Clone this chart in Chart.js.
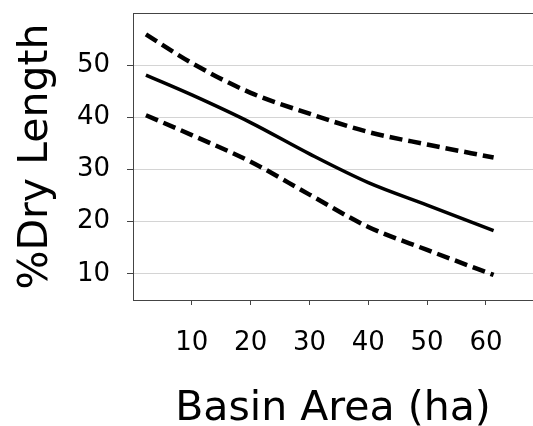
<!DOCTYPE html>
<html>
<head>
<meta charset="utf-8">
<script src="https://cdn.jsdelivr.net/npm/chart.js@4"></script>
<style>
  html, body { margin: 0; padding: 0; background: #fff; overflow: hidden; }
  canvas { display: block; }
</style>
</head>
<body>
<canvas id="chart" width="533" height="426"></canvas>
<script>
// values
const basinArea = [2.2, 10, 20, 30, 40, 50, 61.3];
const fitted = [48.1, 44.3, 39.0, 33.0, 27.5, 23.2, 18.3];
const upperBand = [55.9, 50.4, 44.7, 40.7, 37.2, 34.8, 32.3];
const lowerBand = [40.4, 36.6, 31.5, 25.2, 19.0, 14.6, 9.8];
const xTicks = [10, 20, 30, 40, 50, 60];
const yTicks = [10, 20, 30, 40, 50];

const toPoints = ys => basinArea.map((x, i) => ({ x: x, y: ys[i] }));

// top frame line, the plot has no right border visible
const frameTop = {
  id: 'frameTop',
  afterDraw(chart) {
    const { ctx, chartArea } = chart;
    ctx.save();
    ctx.strokeStyle = '#444';
    ctx.lineWidth = 1;
    ctx.beginPath();
    ctx.moveTo(chartArea.left, chartArea.top + 0.5);
    ctx.lineTo(chartArea.right, chartArea.top + 0.5);
    ctx.stroke();
    ctx.restore();
  }
};

const lineStyle = {
  borderColor: '#000',
  pointRadius: 0,
  showLine: true,
  fill: false,
  cubicInterpolationMode: 'monotone'
};

new Chart(document.getElementById('chart').getContext('2d'), {
  type: 'scatter',
  data: {
    datasets: [
      { ...lineStyle, label: 'upper', data: toPoints(upperBand), borderWidth: 4.5, borderDash: [13, 6] },
      { ...lineStyle, label: 'fit', data: toPoints(fitted), borderWidth: 3.5 },
      { ...lineStyle, label: 'lower', data: toPoints(lowerBand), borderWidth: 4.5, borderDash: [13, 6] }
    ]
  },
  options: {
    responsive: false,
    animation: false,
    devicePixelRatio: 1,
    layout: { padding: { top: 13, left: 0, right: 0, bottom: 0 } },
    plugins: { legend: { display: false }, tooltip: { enabled: false } },
    scales: {
      x: {
        type: 'linear',
        min: 0,
        max: 68,
        afterBuildTicks: axis => { axis.ticks = xTicks.map(v => ({ value: v })); },
        afterFit: axis => { axis.height = 126; axis.paddingLeft = 0; axis.paddingRight = 0; },
        border: { display: true, color: '#444', width: 1 },
        grid: { drawOnChartArea: false, drawTicks: true, tickLength: 5, tickColor: '#444' },
        ticks: { color: '#000', padding: 23, maxRotation: 0, font: { family: 'DejaVu Sans', size: 26 } },
        title: {
          display: true,
          text: 'Basin Area (ha)',
          color: '#000',
          font: { family: 'DejaVu Sans', size: 41, lineHeight: 0.8 },
          padding: { top: 0, bottom: 0 }
        }
      },
      y: {
        type: 'linear',
        min: 5,
        max: 60,
        afterBuildTicks: axis => { axis.ticks = yTicks.map(v => ({ value: v })); },
        afterFit: axis => { axis.width = 133; axis.paddingTop = 0; axis.paddingBottom = 0; },
        border: { display: true, color: '#444', width: 1 },
        grid: {
          color: '#d4d4d4',
          lineWidth: 1,
          borderDash: [1, 3],
          drawTicks: true,
          tickLength: 6,
          tickColor: '#444',
          tickBorderDash: []
        },
        ticks: { color: '#000', padding: 17, font: { family: 'DejaVu Sans', size: 26 } },
        title: {
          display: true,
          text: '%Dry Length',
          color: '#000',
          font: { family: 'DejaVu Sans', size: 41 },
          padding: { top: 12, bottom: 0 }
        }
      }
    }
  },
  plugins: [frameTop]
});
</script>
</body>
</html>
